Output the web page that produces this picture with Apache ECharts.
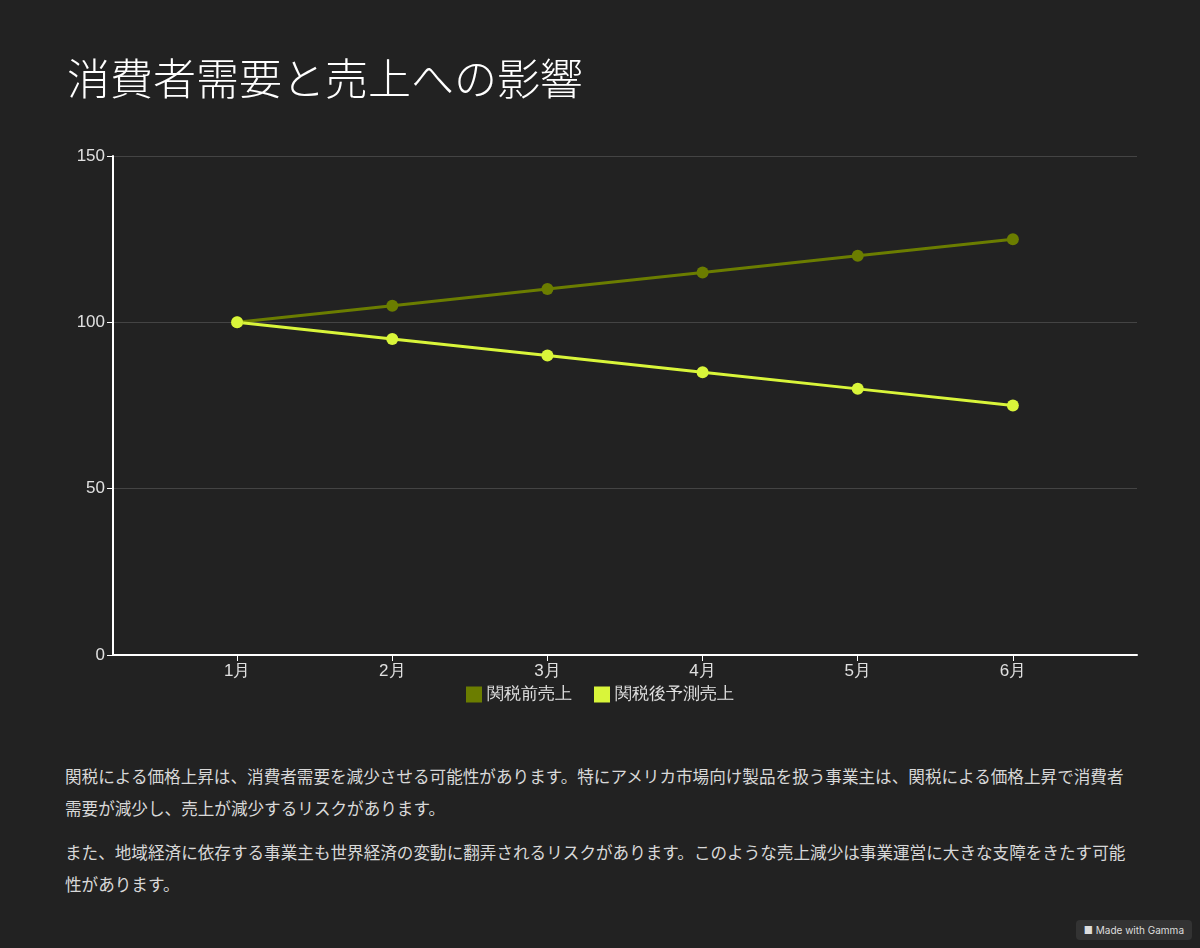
<!DOCTYPE html>
<html>
<head>
<meta charset="UTF-8">
<title>index.html</title>
<style type="text/css">
body { margin: 0; background: #222222; font-family: "Noto Sans CJK JP", sans-serif; }
#main { width: 1200px; height: 720px; }
.txt { position: absolute; left: 65px; width: 1075px; color: #d8d8d8; font-size: 16.6px; line-height: 32px; margin: 0; }
#badge { position: absolute; right: 8px; bottom: 8px; background: #333; color: #ddd; font-size: 10px; padding: 4px 8px; border-radius: 4px; font-family: Inter, sans-serif; }
</style>
</head>
<body>
  <div id="main"></div>
  <p class="txt" style="top:760px;">関税による価格上昇は、消費者需要を減少させる可能性があります。特にアメリカ市場向け製品を扱う事業主は、関税による価格上昇で消費者需要が減少し、売上が減少するリスクがあります。</p>
  <p class="txt" style="top:836px;">また、地域経済に依存する事業主も世界経済の変動に翻弄されるリスクがあります。このような売上減少は事業運営に大きな支障をきたす可能性があります。</p>
  <div id="badge">&#9632; Made with Gamma</div>
<script src="https://cdn.jsdelivr.net/npm/echarts@6/dist/echarts.min.js"></script>
<script>
  var months = [ '1月', '2月', '3月', '4月', '5月', '6月' ];
  var before = [ 100, 105, 110, 115, 120, 125 ];
  var after = [ 100, 95, 90, 85, 80, 75 ];
  function pairs(arr) {
    return arr.map(function(v, i) { return [ i + 1, v ]; });
  }
  var myChart = echarts.init(document.getElementById('main'));
  var option = {
    backgroundColor : '#222222',
    color : [ '#6b7d00', '#d9f53a' ],
    title : {
      text : '消費者需要と売上への影響',
      left : 62,
      top : 52,
      textStyle : { color : '#ffffff', fontSize : 43, fontWeight : 300, fontFamily : 'Noto Sans CJK JP' }
    },
    grid : { left : 113, right : 63, top : 156, bottom : 65 },
    legend : {
      bottom : 12,
      left : 'center',
      icon : 'rect',
      itemWidth : 16,
      itemHeight : 16,
      itemGap : 22,
      textStyle : { color : '#e0e0e0', fontSize : 17 },
      data : [ '関税前売上', '関税後予測売上' ]
    },
    xAxis : {
      type : 'value',
      min : 0.2,
      max : 6.8,
      splitLine : { show : false },
      axisLine : { lineStyle : { color : '#ffffff', width : 2 } },
      axisTick : { customValues : [ 1, 2, 3, 4, 5, 6 ], length : 6, lineStyle : { color : '#ffffff' } },
      axisLabel : {
        customValues : [ 1, 2, 3, 4, 5, 6 ],
        color : '#e0e0e0', fontSize : 17,
        formatter : function(v) { return months[Math.round(v) - 1]; }
      }
    },
    yAxis : {
      type : 'value',
      min : 0,
      max : 150,
      interval : 50,
      axisLine : { show : true, lineStyle : { color : '#ffffff', width : 2 } },
      axisTick : { show : true, length : 6, lineStyle : { color : '#ffffff' } },
      axisLabel : { color : '#e0e0e0', fontSize : 17 },
      splitLine : { lineStyle : { color : '#444444' } }
    },
    series : [ {
      name : '関税前売上',
      type : 'line',
      data : pairs(before),
      symbol : 'circle',
      symbolSize : 12,
      lineStyle : { width : 3 }
    }, {
      name : '関税後予測売上',
      type : 'line',
      data : pairs(after),
      symbol : 'circle',
      symbolSize : 12,
      lineStyle : { width : 3 }
    } ]
  };
  myChart.setOption(option);
</script>
</body>
</html>
